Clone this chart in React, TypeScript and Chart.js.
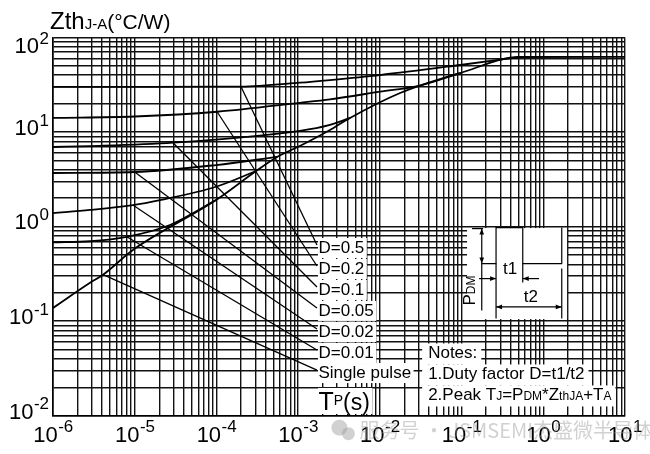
import React, { useEffect, useRef } from "react";
import { Chart, registerables } from "chart.js";

Chart.register(...registerables);

// ---- axes ----
const xMin = 1e-6;
const xMax = 10;
const yMin = 1e-2;
const yMax = 1e2;
const xExponents = [-6, -5, -4, -3, -2, -1, 0, 1];
const yExponents = [-2, -1, 0, 1, 2];
const gridMantissas = [1, 2, 3, 4, 5, 6, 7, 8, 9];

// ---- series (pulse width s, Zth °C/W) ----
const seriesNames = ["D=0.5", "D=0.2", "D=0.1", "D=0.05", "D=0.02", "D=0.01", "Single pulse"];

const d05T = [1e-6, 1e-5, 1e-4, 2e-4, 1.05e-3, 2.45e-3, 0.01, 0.096, 0.52];
const d05Z = [30.0, 30.1, 30.2, 30.3, 33.3, 35.5, 40.1, 51.2, 62.2];

const d02T = [1e-6, 1e-5, 1.02e-4, 1.05e-3, 2.45e-3, 0.01, 0.031, 0.096];
const d02Z = [14.1, 14.6, 16.4, 20.4, 22.2, 26.7, 31.0, 42.1];

const d01T = [1e-6, 2.84e-6, 2.94e-5, 1.05e-3, 2.45e-3, 4.31e-3];
const d01Z = [6.95, 7.1, 7.72, 10.3, 11.9, 14.1];

const d005T = [1e-6, 1e-5, 9.9e-5, 5.52e-4];
const d005Z = [3.69, 3.78, 4.48, 5.45];

const d002T = [1e-6, 2.84e-6, 9.5e-6, 2.04e-5, 9.9e-5, 3.06e-4];
const d002Z = [1.39, 1.5, 1.69, 1.91, 2.64, 3.87];

const d001T = [1e-6, 2.84e-6, 8e-6, 2.7e-5, 9.9e-5];
const d001Z = [0.68, 0.7, 0.78, 1.04, 1.91];

const singleT = [1e-6, 2.84e-6, 4.1e-6, 9.5e-6, 9.9e-5, 3.06e-4, 5.52e-4, 1.05e-3, 2.45e-3, 4.31e-3, 0.0177, 0.096, 0.52, 10];
const singleZ = [0.138, 0.255, 0.31, 0.566, 1.91, 3.87, 5.45, 7.12, 10.5, 14.1, 25.9, 42.1, 62.2, 62.5];

// leader lines: from a point on each curve to its label
const leaderStartT = [2.0e-4, 1.02e-4, 2.94e-5, 1.0e-5, 9.5e-6, 8.0e-6, 4.1e-6];
const leaderStartZ = [30.2, 16.4, 7.72, 3.78, 1.69, 0.78, 0.31];
const leaderEndT = 1.7e-3;
const leaderEndZ = [0.639, 0.383, 0.23, 0.138, 0.0826, 0.0495, 0.0304];

// annotation anchors (data coordinates)
const diagramT = 0.1167;
const diagramZ = 1;
const notesT = 0.039;
const notesZ = 0.0403;
const tpT = 1.7e-3;
const tpZ = 0.0115;

const FONT = "'Liberation Sans', Arial, Helvetica, sans-serif";

function pts(ts: number[], zs: number[]) {
  return ts.map((t, i) => ({ x: t, y: zs[i] }));
}

function buildGrid(exps: number[]) {
  const vals: number[] = [];
  for (let i = 0; i < exps.length - 1; i++) {
    for (const m of gridMantissas) vals.push(m * Math.pow(10, exps[i]));
  }
  vals.push(Math.pow(10, exps[exps.length - 1]));
  return vals;
}

type Part = [string, number, number?];

function richWidth(ctx: CanvasRenderingContext2D, parts: Part[]) {
  let w = 0;
  for (const [t, s] of parts) {
    ctx.font = `${s}px ${FONT}`;
    w += ctx.measureText(t).width;
  }
  return w;
}

function drawRich(ctx: CanvasRenderingContext2D, parts: Part[], x: number, y: number) {
  let cx = x;
  ctx.textAlign = "left";
  ctx.textBaseline = "alphabetic";
  for (const [t, s, dy] of parts) {
    ctx.font = `${s}px ${FONT}`;
    ctx.fillText(t, cx, y + (dy || 0));
    cx += ctx.measureText(t).width;
  }
  return cx;
}

function arrowHead(ctx: CanvasRenderingContext2D, x: number, y: number, dx: number, dy: number) {
  const L = 6;
  const W = 2.3;
  ctx.beginPath();
  ctx.moveTo(x, y);
  ctx.lineTo(x - dx * L - dy * W, y - dy * L + dx * W);
  ctx.lineTo(x - dx * L + dy * W, y - dy * L - dx * W);
  ctx.closePath();
  ctx.fill();
}

function line(ctx: CanvasRenderingContext2D, x1: number, y1: number, x2: number, y2: number) {
  ctx.beginPath();
  ctx.moveTo(x1, y1);
  ctx.lineTo(x2, y2);
  ctx.stroke();
}

const annotations = {
  id: "annotations",
  beforeDraw(chart: any) {
    const ctx = chart.ctx;
    ctx.save();
    ctx.fillStyle = "#fff";
    ctx.fillRect(0, 0, chart.width, chart.height);
    ctx.restore();
  },
  afterDatasetsDraw(chart: any) {
    const ctx: CanvasRenderingContext2D = chart.ctx;
    const xs = chart.scales.x;
    const ys = chart.scales.y;
    const area = chart.chartArea;
    ctx.save();
    ctx.fillStyle = "#000";
    ctx.strokeStyle = "#000";

    // curve labels with white backgrounds
    const lx = xs.getPixelForValue(leaderEndT);
    seriesNames.forEach((name, i) => {
      const ly = ys.getPixelForValue(leaderEndZ[i]);
      const base = ly + 8;
      ctx.font = `17px ${FONT}`;
      const w = ctx.measureText(name).width;
      ctx.fillStyle = "#fff";
      ctx.fillRect(lx + 1, base - 15, w + 3, 20);
      ctx.fillStyle = "#000";
      ctx.textAlign = "left";
      ctx.textBaseline = "alphabetic";
      ctx.fillText(name, lx + 1.5, base);
    });

    // Tp(s)
    const tpx = xs.getPixelForValue(tpT);
    const tpy = ys.getPixelForValue(tpZ);
    const tpParts: Part[] = [["T", 25], ["P", 14, -5], ["(s)", 23]];
    const tpw = richWidth(ctx, tpParts);
    ctx.fillStyle = "#fff";
    ctx.fillRect(tpx + 1, tpy - 22, tpw + 3, 26);
    ctx.fillStyle = "#000";
    drawRich(ctx, tpParts, tpx + 1.5, tpy);

    // notes
    const nx = xs.getPixelForValue(notesT);
    const ny = ys.getPixelForValue(notesZ);
    const noteLines: Part[][] = [
      [["Notes:", 17]],
      [["1.Duty factor D=t1/t2", 17]],
      [["2.Peak T", 17], ["J", 12], ["=P", 17], ["DM", 12], ["*Z", 17], ["thJA", 12], ["+T", 17], ["A", 12]],
    ];
    noteLines.forEach((parts, i) => {
      const base = ny + i * 21;
      const w = richWidth(ctx, parts);
      ctx.fillStyle = "#fff";
      ctx.fillRect(nx - 6, base - 15, w + 10, 21);
    });
    ctx.fillStyle = "#000";
    noteLines.forEach((parts, i) => {
      drawRich(ctx, parts, nx, ny + i * 21);
    });

    // pulse diagram
    const ax = xs.getPixelForValue(diagramT);
    const ay = ys.getPixelForValue(diagramZ);
    ctx.fillStyle = "#fff";
    ctx.fillRect(ax, ay + 1.5, 100, 91);
    ctx.fillStyle = "#000";
    ctx.lineWidth = 1.2;
    line(ctx, ax + 14.7, ay + 2, ax + 14.7, ay + 84);
    line(ctx, ax + 5, ay + 2, ax + 16, ay + 2);
    arrowHead(ctx, ax + 14.7, ay + 2, 0, -1);
    arrowHead(ctx, ax + 14.7, ay + 37, 0, 1);
    ctx.beginPath();
    ctx.moveTo(ax + 14.7, ay + 37);
    ctx.lineTo(ax + 29, ay + 37);
    ctx.lineTo(ax + 29, ay + 1);
    ctx.lineTo(ax + 55.7, ay + 1);
    ctx.lineTo(ax + 55.7, ay + 37);
    ctx.lineTo(ax + 94.7, ay + 37);
    ctx.lineTo(ax + 94.7, ay + 1);
    ctx.stroke();
    line(ctx, ax + 29, ay + 37, ax + 29, ay + 92);
    line(ctx, ax + 55.7, ay + 37, ax + 55.7, ay + 56);
    line(ctx, ax + 94.7, ay + 42, ax + 94.7, ay + 92);
    line(ctx, ax + 12, ay + 52, ax + 29, ay + 52);
    arrowHead(ctx, ax + 29, ay + 52, 1, 0);
    line(ctx, ax + 72, ay + 52, ax + 55.7, ay + 52);
    arrowHead(ctx, ax + 55.7, ay + 52, -1, 0);
    line(ctx, ax + 29, ay + 80.3, ax + 94.7, ay + 80.3);
    arrowHead(ctx, ax + 29, ay + 80.3, -1, 0);
    arrowHead(ctx, ax + 94.7, ay + 80.3, 1, 0);
    ctx.font = `17px ${FONT}`;
    ctx.textAlign = "center";
    ctx.textBaseline = "alphabetic";
    ctx.fillText("t1", ax + 43, ay + 47);
    ctx.fillText("t2", ax + 63.8, ay + 75.3);
    ctx.save();
    ctx.translate(ax + 8, ay + 64);
    ctx.rotate(-Math.PI / 2);
    const pdm: Part[] = [["P", 17], ["DM", 12]];
    const pw = richWidth(ctx, pdm);
    drawRich(ctx, pdm, -pw / 2, 0);
    ctx.restore();

    // x tick labels
    ctx.fillStyle = "#000";
    xExponents.forEach((e) => {
      const px = xs.getPixelForValue(Math.pow(10, e));
      const sup = e < 0 ? "-" + Math.abs(e) : String(e);
      ctx.font = `22px ${FONT}`;
      const w1 = ctx.measureText("10").width;
      ctx.font = `17px ${FONT}`;
      const w2 = ctx.measureText(sup).width;
      const start = px - (w1 + w2) / 2;
      ctx.textAlign = "left";
      ctx.font = `22px ${FONT}`;
      ctx.fillText("10", start, area.bottom + 26);
      ctx.font = `17px ${FONT}`;
      ctx.fillText(sup, start + w1 + 0.5, area.bottom + 16.5);
    });

    // y tick labels
    yExponents.forEach((e) => {
      const py = ys.getPixelForValue(Math.pow(10, e));
      const sup = e < 0 ? "-" + Math.abs(e) : String(e);
      ctx.font = `22px ${FONT}`;
      const w1 = ctx.measureText("10").width;
      ctx.font = `17px ${FONT}`;
      const w2 = ctx.measureText(sup).width;
      const right = area.left - 4;
      const cy = Math.max(py - 5, area.top + 8);
      ctx.textAlign = "left";
      ctx.font = `22px ${FONT}`;
      ctx.fillText("10", right - w2 - w1 - 0.5, cy + 7.8);
      ctx.font = `17px ${FONT}`;
      ctx.fillText(sup, right - w2, cy - 1.5);
    });

    // axis title
    drawRich(ctx, [["Zth", 24], ["J-A", 15], ["(°C/W)", 21]], area.left - 3, area.top - 8.5);

    // watermark
    ctx.globalAlpha = 0.45;
    ctx.fillStyle = "#9a9a9a";
    const wy = area.bottom + 14;
    const wx = xs.getPixelForValue(3.2e-3);
    ctx.beginPath();
    ctx.arc(wx, wy - 2, 8, 0, Math.PI * 2);
    ctx.fill();
    ctx.beginPath();
    ctx.arc(wx + 9, wy + 4, 6.5, 0, Math.PI * 2);
    ctx.fill();
    ctx.font = `20px 'Noto Sans CJK SC', ${FONT}`;
    ctx.textAlign = "left";
    ctx.fillText("服务号 · JSMSEMI杰盛微半导体", wx + 20, wy + 8);
    ctx.restore();
  },
};

export default function App() {
  const ref = useRef<HTMLCanvasElement | null>(null);

  useEffect(() => {
    if (!ref.current) return;
    const curveStyle = {
      borderColor: "#000",
      borderWidth: 1.8,
      pointRadius: 0,
      fill: false,
      cubicInterpolationMode: "monotone" as const,
    };
    const leaderStyle = {
      borderColor: "#000",
      borderWidth: 1.3,
      pointRadius: 0,
      fill: false,
      tension: 0,
    };
    const curves = [
      [d05T, d05Z],
      [d02T, d02Z],
      [d01T, d01Z],
      [d005T, d005Z],
      [d002T, d002Z],
      [d001T, d001Z],
      [singleT, singleZ],
    ];
    const datasets: any[] = curves.map(([t, z], i) => ({
      label: seriesNames[i],
      data: pts(t, z),
      ...curveStyle,
    }));
    leaderStartT.forEach((t, i) => {
      datasets.push({
        label: seriesNames[i] + " leader",
        data: [
          { x: t, y: leaderStartZ[i] },
          { x: leaderEndT, y: leaderEndZ[i] },
        ],
        ...leaderStyle,
      });
    });

    const xGrid = buildGrid(xExponents);
    const yGrid = buildGrid(yExponents);

    const chart = new Chart(ref.current, {
      type: "line",
      data: { datasets },
      options: {
        responsive: false,
        animation: false,
        events: [],
        layout: { padding: { left: 53, right: 25, top: 37.5, bottom: 38.3 } },
        plugins: { legend: { display: false }, tooltip: { enabled: false } },
        scales: {
          x: {
            type: "logarithmic",
            min: xMin,
            max: xMax,
            afterBuildTicks: (s: any) => {
              s.ticks = xGrid.map((v) => ({ value: v }));
            },
            afterFit: (s: any) => {
              s.height = 0;
            },
            ticks: { display: false },
            grid: { color: "#111", lineWidth: 1.4, drawTicks: false },
            border: { display: true, color: "#000", width: 1.6 },
          },
          y: {
            type: "logarithmic",
            min: yMin,
            max: yMax,
            afterBuildTicks: (s: any) => {
              s.ticks = yGrid.map((v) => ({ value: v }));
            },
            afterFit: (s: any) => {
              s.width = 0;
            },
            ticks: { display: false },
            grid: { color: "#111", lineWidth: 1.4, drawTicks: false },
            border: { display: true, color: "#000", width: 1.6 },
          },
        },
      } as any,
      plugins: [annotations],
    });
    return () => chart.destroy();
  }, []);

  return (
    <div style={{ position: "fixed", left: 0, top: 0, width: 650, height: 454, background: "#fff" }}>
      <canvas ref={ref} width={650} height={454} style={{ width: 650, height: 454, display: "block" }} />
    </div>
  );
}
